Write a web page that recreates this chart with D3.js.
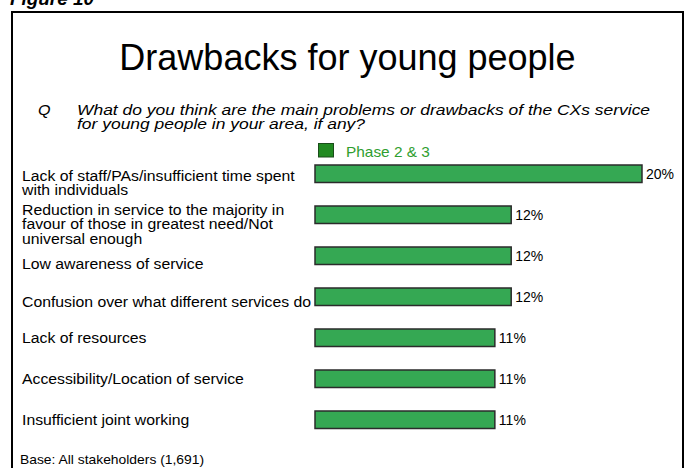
<!DOCTYPE html>
<html>
<head>
<meta charset="utf-8">
<script src="https://cdn.jsdelivr.net/npm/d3@7"></script>
<style>
  html, body { margin: 0; padding: 0; background: #fff; }
  svg { display: block; font-family: "Liberation Sans", Arial, sans-serif; }
</style>
</head>
<body>
<svg id="chart" width="688" height="468"></svg>
<script>
// Survey answers, one bar per drawback
const categories = [
  "Lack of staff/PAs/insufficient time spent\nwith individuals",
  "Reduction in service to the majority in\nfavour of those in greatest need/Not\nuniversal enough",
  "Low awareness of service",
  "Confusion over what different services do",
  "Lack of resources",
  "Accessibility/Location of service",
  "Insufficient joint working"
];
const values = [20, 12, 12, 12, 11, 11, 11];
const seriesName = "Phase 2 & 3";

const titleText = "Drawbacks for young people";
const questionLines = [
  "What do you think are the main problems or drawbacks of the CXs service",
  "for young people in your area, if any?"
];
const baseText = "Base: All stakeholders (1,691)";

// Layout: vertical nudge of each category label's first line from its bar centre
const labelShift = [7, 0, 13.5, 10.5, 5, 5.5, 5.5];

const svg = d3.select("#chart");

// Text placed at (x, y) and widened horizontally by sx
function addText(parent, x, y, sx, str) {
  return parent.append("text")
    .attr("transform", `translate(${x},${y}) scale(${sx},1)`)
    .text(str);
}

// Figure caption, clipped at the top edge
addText(svg, 10, 5, 1.05, "Figure 10")
  .attr("font-size", 18).attr("font-weight", "bold").attr("font-style", "italic")
  .attr("fill", "#000");

// Outer frame
svg.append("rect")
  .attr("x", 12).attr("y", 12).attr("width", 671).attr("height", 470)
  .attr("fill", "none").attr("stroke", "#000").attr("stroke-width", 2);

// Title
svg.append("text")
  .attr("x", 347.5).attr("y", 70)
  .attr("text-anchor", "middle")
  .attr("font-size", 36)
  .attr("fill", "#000")
  .text(titleText);

// Question
addText(svg, 38, 115, 1.15, "Q")
  .attr("font-size", 14).attr("font-style", "italic");
questionLines.forEach((line, i) => {
  addText(svg, 77, 115 + i * 13.8, 1.247, line)
    .attr("font-size", 14).attr("font-style", "italic");
});

// Legend
const legend = svg.append("g");
legend.append("rect")
  .attr("x", 318.5).attr("y", 143.5).attr("width", 15).attr("height", 13.5)
  .attr("fill", "#218a21").attr("stroke", "#1a4d1a").attr("stroke-width", 1);
addText(legend, 346, 156.5, 1.1, seriesName)
  .attr("font-size", 14).attr("fill", "#2f9e2f");

// Scales
const x = d3.scaleLinear().domain([0, 20]).range([315, 642]);
const y = d3.scaleBand()
  .domain(categories)
  .range([153.25, 153.25 + 41 * categories.length])
  .paddingInner(0.573)
  .paddingOuter(0.2865);

// Bars
svg.append("g")
  .selectAll("rect")
  .data(categories)
  .join("rect")
  .attr("x", x(0))
  .attr("y", d => y(d))
  .attr("width", (d, i) => x(values[i]) - x(0))
  .attr("height", y.bandwidth())
  .attr("fill", "#35a853")
  .attr("stroke", "#2b2b2b")
  .attr("stroke-width", 1.5);

// Value labels
svg.append("g")
  .selectAll("text")
  .data(categories)
  .join("text")
  .attr("x", (d, i) => x(values[i]) + 4)
  .attr("y", d => y(d) + y.bandwidth() / 2 + 5)
  .attr("font-size", 14)
  .attr("fill", "#000")
  .text((d, i) => values[i] + "%");

// Category labels
const catGroup = svg.append("g");
categories.forEach((d, i) => {
  const y0 = y(d) + y.bandwidth() / 2 + labelShift[i];
  const t = catGroup.append("text")
    .attr("transform", `translate(22,${y0}) scale(1.128,1)`)
    .attr("font-size", 14)
    .attr("fill", "#000");
  d.split("\n").forEach((line, j) => {
    t.append("tspan").attr("x", 0).attr("y", j * 14.5).text(line);
  });
});

// Base note
addText(svg, 20, 464, 1.156, baseText)
  .attr("font-size", 12)
  .attr("fill", "#000");
</script>
</body>
</html>
